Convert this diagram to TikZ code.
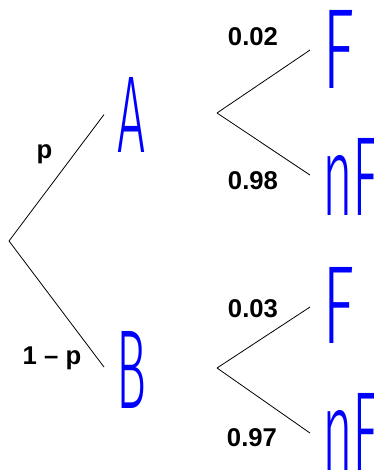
\documentclass[tikz,border=0pt]{standalone}
\usepackage{fontspec}
\setmainfont{Liberation Sans}
\newfontfamily\bigf{Fira Sans Light}
\newcommand\BigLetter[3]{\resizebox{#1}{#2}{\bigf #3}}
\tikzset{
  big/.style={inner sep=0pt, outer sep=0pt, text=blue, anchor=north west},
  lab/.style={inner sep=0pt, font=\fontsize{25.7}{28}\selectfont\bfseries, anchor=base},
  branch/.style={line width=0.8pt, draw=black}
}
\begin{document}
\begin{tikzpicture}[x=1pt,y=-1pt]
\useasboundingbox[fill=white] (0,0) rectangle (374,472);
% big letters
\node[big] (A) at (117,77) {\BigLetter{28pt}{75pt}{A}};
\node[big] (B) at (116,331) {\BigLetter{30pt}{77pt}{B}};
\node[big] (F1) at (322,10) {\BigLetter{32pt}{78pt}{F}};
\node[big] (nF1) at (322,138) {\BigLetter{56pt}{77pt}{nF}};
\node[big] (F2) at (322,267) {\BigLetter{32pt}{76pt}{F}};
\node[big] (nF2) at (322,393) {\BigLetter{56pt}{77pt}{nF}};
% branch points
\coordinate (r) at (9,241);
\coordinate (a1) at (217,113);
\coordinate (b1) at (217,368);
% connectors
\draw[branch] (r) -- ([xshift=-13pt]A.west);
\draw[branch] (r) -- ([xshift=-12pt,yshift=2.5pt]B.west);
\draw[branch] (a1) -- ([xshift=-12pt,yshift=-1pt]F1.west);
\draw[branch] (a1) -- ([xshift=-12pt,yshift=1.5pt]nF1.west);
\draw[branch] (b1) -- ([xshift=-12pt,yshift=-2pt]F2.west);
\draw[branch] (b1) -- ([xshift=-12pt,yshift=-1.5pt]nF2.west);
% labels
\node[lab] (lp) at (44.5,158) {p};
\node[lab] (l1p) at (52,364) {1 \textendash{} p};
\node[lab] (l02) at (253,45) {0.02};
\node[lab] (l98) at (253,189.5) {0.98};
\node[lab] (l03) at (253,317.5) {0.03};
\node[lab] (l97) at (252,446.5) {0.97};
\end{tikzpicture}
\end{document}
